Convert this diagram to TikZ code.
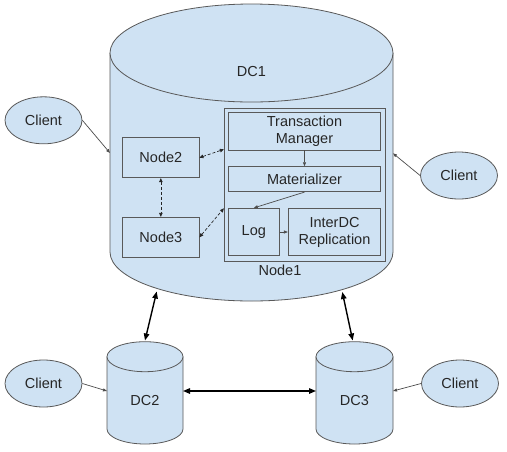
\documentclass[tikz,border=0pt]{standalone}
\usepackage{fontspec}
\setmainfont{Liberation Sans}
\usetikzlibrary{arrows.meta,shapes.geometric}
\definecolor{cylblue}{HTML}{CFE2F3}
\definecolor{edgegray}{HTML}{595959}
\definecolor{txtgray}{HTML}{262626}
\begin{document}
\begin{tikzpicture}[x=1pt,y=-1pt,
  lbl/.style={font=\fontsize{14.5}{17}\selectfont, text=txtgray},
  box/.style={draw=edgegray, line width=0.8pt, fill=cylblue, rectangle, inner sep=0pt, lbl, align=center},
  client/.style={ellipse, draw=edgegray, line width=0.8pt, fill=cylblue, minimum width=77pt, minimum height=47pt, inner sep=0pt, lbl},
  cyl/.style={draw=edgegray, line width=0.8pt, fill=cylblue},
  dcarrow/.style={{Triangle[length=7pt,width=5.5pt]}-{Triangle[length=7pt,width=5.5pt]}, line width=1.4pt, draw=black},
  clarrow/.style={-{Triangle[length=4pt,width=3pt]}, line width=0.7pt, draw=black!70},
  dasharrow/.style={{Triangle[length=4pt,width=3.5pt]}-{Triangle[length=4pt,width=3.5pt]}, dash pattern=on 3pt off 2pt, line width=0.7pt, draw=black!85},
]
\useasboundingbox (0,0) rectangle (507,451);
\fill[white] (0,0) rectangle (507,451);

% DC1 cylinder
\path[cyl] (110,53) -- (110,252) arc[start angle=180,end angle=360,x radius=141.5pt,y radius=49pt] -- (393,53);
\path[cyl] (251.5,53) ellipse[x radius=141.5pt, y radius=49pt];
\node[lbl] (dc1) at (251.5,72) {DC1};

% DC2 cylinder
\path[cyl] (107,356.7) -- (107,429) arc[start angle=180,end angle=360,x radius=38pt,y radius=15pt] -- (183,356.7);
\path[cyl] (145,356.7) ellipse[x radius=38pt, y radius=15pt];
\node[lbl] (dc2) at (145,401) {DC2};

% DC3 cylinder
\path[cyl] (316,356.7) -- (316,429) arc[start angle=180,end angle=360,x radius=38.5pt,y radius=15pt] -- (393,356.7);
\path[cyl] (354.5,356.7) ellipse[x radius=38.5pt, y radius=15pt];
\node[lbl] (dc3) at (354.5,401) {DC3};

% inner boxes
\node[box, minimum width=160.7pt, minimum height=153.4pt] (node1) at (304.65,185) {};
\node[lbl] (node1lbl) at (280,270) {Node1};
\node[box, minimum width=152.4pt, minimum height=37.3pt] (tm) at (304.5,131.35) {Transaction\\Manager};
\node[box, minimum width=152.4pt, minimum height=25pt] (mat) at (304.5,179.2) {Materializer};
\node[box, minimum width=51pt, minimum height=47.4pt] (log) at (253.8,232) {Log};
\node[box, minimum width=92.4pt, minimum height=47.4pt] (idc) at (334.5,232) {InterDC\\Replication};
\node[box, minimum width=76.3pt, minimum height=40pt] (n2) at (160.85,157.7) {Node2};
\node[box, minimum width=76.3pt, minimum height=40pt] (n3) at (160.85,237.3) {Node3};

% clients
\node[client] (c1) at (43.5,120.3) {Client};
\node[client] (c2) at (459,175.5) {Client};
\node[client] (c3) at (43.5,383.5) {Client};
\node[client] (c4) at (460,383.5) {Client};

% connector end points on cylinders
\coordinate (dc1L) at (110,153);
\coordinate (dc1R) at (393,153.3);
\coordinate (dc1BL) at (156.7,291.5);
\coordinate (dc1BR) at (342.3,292);
\coordinate (dc2T) at (145,340.5);
\coordinate (dc3T) at (352.7,340.5);
\coordinate (dc2R) at (183,391);
\coordinate (dc3L) at (316,391);
\coordinate (dc2L) at (107,391);
\coordinate (dc3R) at (393,391);

% internal arrows
\draw[clarrow] (tm.south) -- (mat.north);
\draw[clarrow] (mat.south) -- (log.north);
\draw[clarrow] (log.east) -- (idc.west);
\draw[dasharrow] (n2.east) -- ([yshift=35.7pt]node1.west);
\draw[dasharrow] (n3.east) -- ([yshift=-23.3pt]node1.west);
\draw[dasharrow] (n2.south) -- (n3.north);

% client arrows
\draw[clarrow] (c1.east) -- (dc1L);
\draw[clarrow] (c2.west) -- (dc1R);
\draw[clarrow] (c3.east) -- (dc2L);
\draw[clarrow] (c4.west) -- (dc3R);

% DC arrows
\draw[dcarrow] (dc1BL) -- (dc2T);
\draw[dcarrow] (dc1BR) -- (dc3T);
\draw[dcarrow] (dc2R) -- (dc3L);
\end{tikzpicture}
\end{document}
